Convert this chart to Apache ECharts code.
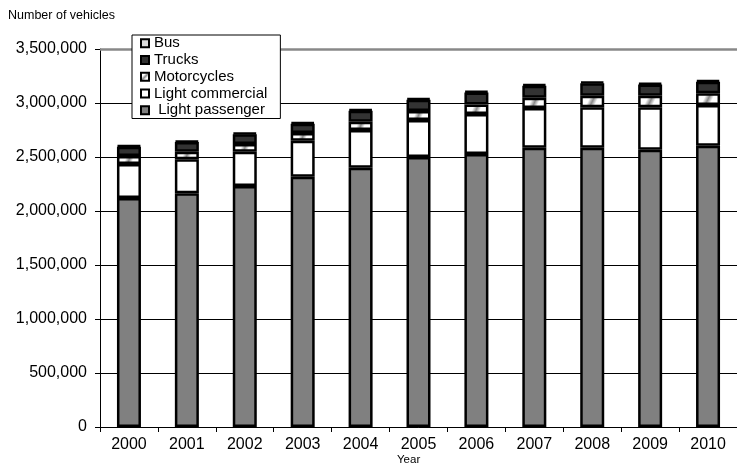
<!DOCTYPE html>
<html>
<head>
<meta charset="utf-8">
<script src="https://cdn.jsdelivr.net/npm/echarts@6/dist/echarts.min.js"></script>
<style>
html,body{margin:0;padding:0;background:#fff;}
#chart{width:737px;height:466px;}
</style>
</head>
<body>
<div id="chart"></div>
<script>
var years = ['2000','2001','2002','2003','2004','2005','2006','2007','2008','2009','2010'];
var lightPassenger = [2120000,2164000,2231000,2318000,2401000,2500000,2528000,2586000,2586000,2568000,2605000];
var lightCommercial = [315000,315000,318000,333000,349000,343000,369000,368000,374000,392000,376000];
var motorcycles = [74000,70000,71000,71000,77000,83000,88000,95000,108000,108000,109000];
var trucks = [87000,90000,91000,87000,102000,104000,113000,110000,115000,103000,106000];
var bus = [10000,11000,11000,12000,12000,13000,13000,14000,14000,14000,14000];
var yTicks = [0,500000,1000000,1500000,2000000,2500000,3000000,3500000];

var chart = echarts.init(document.getElementById('chart'));
var font = 'Liberation Sans, Arial, sans-serif';
var motoGrad = new echarts.graphic.LinearGradient(0,0,1,1,[
  {offset:0,color:'#ffffff'},{offset:0.35,color:'#ffffff'},
  {offset:0.5,color:'#8a8a8a'},{offset:0.65,color:'#ffffff'},{offset:1,color:'#ffffff'}]);

function barSeries(name, data, color) {
  return {
    name: name, type: 'bar', stack: 'v', data: data, barWidth: 24,
    itemStyle: {color: color, borderColor: '#000', borderWidth: 2.5},
    emphasis: {disabled: true}, animation: false
  };
}

var series = [
  barSeries(' Light passenger', lightPassenger, '#808080'),
  barSeries('Light commercial', lightCommercial, '#ffffff'),
  barSeries('Motorcycles', motorcycles, motoGrad),
  barSeries('Trucks', trucks, '#333333'),
  barSeries('Bus', bus, '#dddddd')
];
series[0].markLine = {
  silent: true, symbol: 'none', label: {show: false},
  lineStyle: {color: '#888888', width: 2.5, type: 'solid'},
  data: [{yAxis: yTicks[yTicks.length-1]}], animation: false
};

chart.setOption({
  animation: false,
  textStyle: {fontFamily: font},
  grid: {left: 100, top: 49, bottom: 39, right: -12.5, containLabel: false},
  legend: {
    orient: 'vertical', left: 132, top: 35,
    data: ['Bus','Trucks','Motorcycles','Light commercial',' Light passenger'],
    backgroundColor: '#fff', borderColor: '#000', borderWidth: 1,
    padding: [0, 13, 0, 8], itemGap: 0, itemWidth: 8, itemHeight: 8,
    icon: 'rect',
    itemStyle: {borderColor: '#000', borderWidth: 2},
    textStyle: {fontFamily: font, fontSize: 15, color: '#000', lineHeight: 16.7, padding: [0,0,0,0]},
    selectedMode: false, z: 10
  },
  xAxis: {
    type: 'category', data: years,
    axisLine: {lineStyle: {color: '#000', width: 1}},
    axisTick: {show: true, inside: false, length: 5, lineStyle: {color: '#000'}},
    axisLabel: {fontFamily: font, fontSize: 16, color: '#000', margin: 10},
    splitLine: {show: false}
  },
  yAxis: {
    type: 'value', min: yTicks[0], max: yTicks[yTicks.length-1], interval: 500000,
    axisLine: {show: true, lineStyle: {color: '#000', width: 1}},
    axisTick: {show: true, length: 5, lineStyle: {color: '#000'}},
    axisLabel: {fontFamily: font, fontSize: 16, color: '#000', margin: 13,
      formatter: function(v){ return v.toLocaleString('en-US'); }},
    splitLine: {show: true, lineStyle: {color: '#000', width: 1}}
  },
  graphic: [
    {type: 'text', left: 8, top: 9, style: {text: 'Number of vehicles', fontFamily: font, fontSize: 12.5, fill: '#000'}},
    {type: 'text', left: 397, top: 454, style: {text: 'Year', fontFamily: font, fontSize: 11.5, fill: '#000'}}
  ],
  series: series
});
</script>
</body>
</html>
